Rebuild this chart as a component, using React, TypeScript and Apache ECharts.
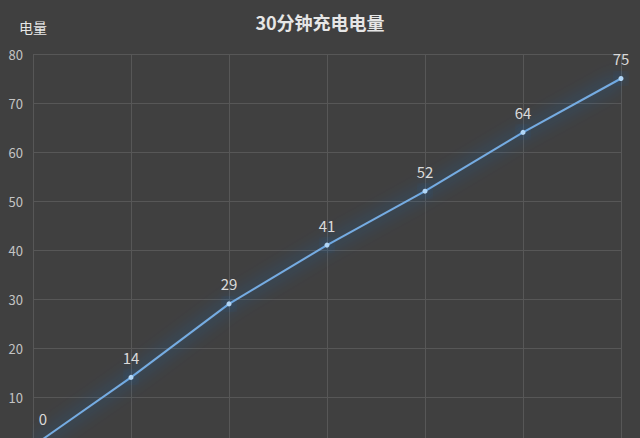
import React, { useEffect, useRef } from 'react';
import * as echarts from 'echarts';

const minutes = ['0', '5', '10', '15', '20', '25', '30'];
const charge = [0, 14, 29, 41, 52, 64, 75];
const yTicks = [0, 10, 20, 30, 40, 50, 60, 70, 80];

const App: React.FC = () => {
	const chartRef = useRef<HTMLDivElement>(null);

	useEffect(() => {
		if (!chartRef.current) return;
		// The chart runs past the bottom edge of the window, as in the reference
		document.body.style.margin = '0';
		document.body.style.overflow = 'hidden';
		const chart = echarts.init(chartRef.current, undefined, { renderer: 'svg' });
		const font = '"Noto Sans CJK SC", "Noto Sans", sans-serif';

		const option: echarts.EChartsOption = {
			animation: false,
			backgroundColor: '#404040',
			title: {
				text: '30分钟充电电量',
				left: 'center',
				top: 8,
				textStyle: {
					color: '#e6e6e6',
					fontSize: 18,
					fontWeight: 'bold',
					fontFamily: font
				}
			},
			grid: {
				left: 33,
				right: 19,
				top: 54,
				bottom: 0,
				containLabel: false
			},
			xAxis: {
				type: 'category',
				data: minutes,
				boundaryGap: false,
				axisLine: { show: false },
				axisTick: { show: false },
				axisLabel: { show: false },
				splitLine: {
					show: true,
					lineStyle: { color: '#575757', width: 1 }
				}
			},
			yAxis: {
				type: 'value',
				min: yTicks[0],
				max: yTicks[yTicks.length - 1],
				interval: 10,
				name: '电量',
				nameLocation: 'end',
				nameGap: 20,
				nameTextStyle: {
					color: '#e6e6e6',
					fontSize: 14,
					fontFamily: font,
					align: 'center',
					padding: [0, 0, 0, 0]
				},
				axisLine: { show: false },
				axisTick: { show: false },
				axisLabel: {
					color: '#c4c4c4',
					fontSize: 13,
					fontFamily: font,
					margin: 10,
					formatter: (v: number) => (v === 0 ? '' : String(v))
				},
				splitLine: {
					lineStyle: { color: '#575757', width: 1 }
				}
			},
			series: [
				{
					type: 'line',
					data: charge.map((v, i) =>
						i === 0 ? { value: v, label: { offset: [10, -8] } } : v
					),
					symbol: 'circle',
					symbolSize: 5,
					lineStyle: {
						color: '#74ace2',
						width: 2,
						shadowColor: 'rgba(30, 120, 240, 1)',
						shadowBlur: 18
					},
					itemStyle: {
						color: '#b0d6f7',
						borderWidth: 0,
						shadowColor: 'rgba(30, 120, 240, 1)',
						shadowBlur: 12
					},
					label: {
						show: true,
						position: 'top',
						distance: 10,
						color: '#dadada',
						fontSize: 15,
						fontFamily: font
					}
				}
			]
		};

		chart.setOption(option);
		return () => {
			chart.dispose();
		};
	}, []);

	return <div ref={chartRef} style={{ width: '640px', height: '446px' }} />;
};

export default App;
